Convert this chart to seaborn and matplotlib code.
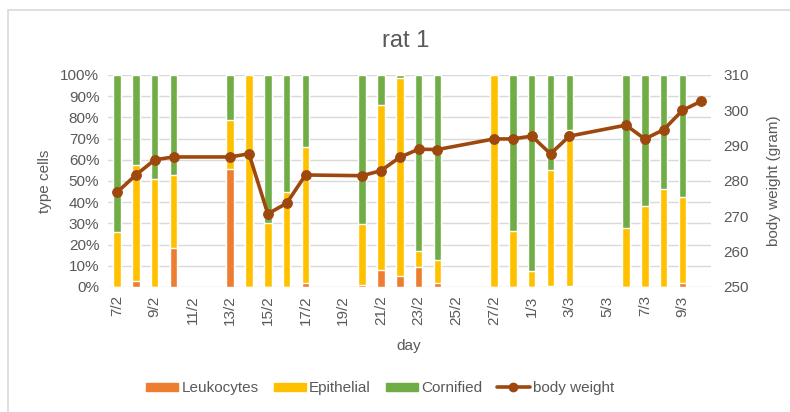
import numpy as np
import pandas as pd
import matplotlib.pyplot as plt
import seaborn as sns
from matplotlib.patches import Patch, Rectangle
from matplotlib.lines import Line2D
from matplotlib.ticker import PercentFormatter

# ------------------- DATOS ------------------- #

nan = np.nan

days = ['7/2', '8/2', '9/2', '10/2', '11/2', '12/2', '13/2', '14/2', '15/2', '16/2',
        '17/2', '18/2', '19/2', '20/2', '21/2', '22/2', '23/2', '24/2', '25/2', '26/2',
        '27/2', '28/2', '1/3', '2/3', '3/3', '4/3', '5/3', '6/3', '7/3', '8/3', '9/3', '10/3']

leukocytes = [0, 2.7, 0, 18.5, nan, nan, 55.8, 0, 0, 0, 2, nan, nan, 1, 8.2, 5,
              9.5, 2, nan, nan, 0, 0, 0, 0.5, 0.5, nan, nan, 0, 0, 0, 2, nan]
epithelial = [26, 54.8, 51, 34.1, nan, nan, 23.2, 100, 30, 45, 64, nan, nan, 28.7, 77.8, 93.7,
              7.5, 10.6, nan, nan, 100, 26.5, 7.6, 54.5, 73.5, nan, nan, 28, 38, 46, 40.3, nan]
cornified = [74, 42.5, 49, 47.4, nan, nan, 21, 0, 70, 55, 34, nan, nan, 70.3, 14, 1.3,
             83, 87.4, nan, nan, 0, 73.5, 92.4, 45, 26, nan, nan, 72, 62, 54, 57.7, nan]

body_weight = [276.8, 281.7, 286, 286.8, nan, nan, 286.8, 287.7, 270.7, 273.7, 281.7, nan, nan,
               281.5, 282.9, 286.7, 289, 288.9, nan, nan, 291.9, 291.9, 292.7, 287.7, 292.7,
               nan, nan, 295.8, 291.9, 294.5, 300, 302.6]

C_LEUK = '#ED7D31'
C_EPI = '#FFC000'
C_CORN = '#70AD47'
C_BW = '#9E480E'
C_TXT = '#595959'

df = pd.DataFrame({'day': days, 'Leukocytes': leukocytes,
                   'Epithelial': epithelial, 'Cornified': cornified,
                   'weight': body_weight})
df['pos'] = np.arange(len(days))
df['cum1'] = df['Leukocytes']
df['cum2'] = df['Leukocytes'] + df['Epithelial']
df['cum3'] = df['cum2'] + df['Cornified']

# ------------------- GRÁFICA ------------------- #

sns.set_style('white')
plt.rcParams['font.family'] = ['Liberation Sans', 'DejaVu Sans']

fig = plt.figure(figsize=(7.9, 4.12), dpi=100)
ax = fig.add_axes([0.1362, 0.3034, 0.8997 - 0.1362, 0.818 - 0.3034])

bars = df.dropna(subset=['cum3'])
for col, c in [('cum3', C_CORN), ('cum2', C_EPI), ('cum1', C_LEUK)]:
    sns.barplot(data=bars, x='day', y=col, order=days, color=c, width=0.4,
                saturation=1, ax=ax, zorder=2)

ax.set_ylim(0, 100)
ax.set_yticks(np.arange(0, 101, 10))
ax.yaxis.set_major_formatter(PercentFormatter(decimals=0))
ax.grid(axis='y', color='#D9D9D9', linewidth=1, zorder=0)
ax.set_axisbelow(True)
ax.set_xticks(range(0, len(days), 2))
ax.set_xticklabels(days[::2], rotation=90)
ax.tick_params(axis='both', length=0, labelsize=11, colors=C_TXT, pad=6)
ax.set_xlabel('day', fontsize=11, color=C_TXT, labelpad=10)
ax.set_ylabel('type cells', fontsize=11, color=C_TXT, labelpad=6)
for s in ax.spines.values():
    s.set_visible(False)

ax2 = ax.twinx()
line = df.dropna(subset=['weight'])
sns.lineplot(data=line, x='pos', y='weight', color=C_BW, linewidth=2.6,
             marker='o', markersize=7, markeredgecolor=C_BW, ax=ax2)
ax2.set_ylim(250, 310)
ax2.set_yticks(np.arange(250, 311, 10))
ax2.tick_params(axis='y', length=0, labelsize=11, colors=C_TXT, pad=9)
ax2.set_ylabel('body weight (gram)', fontsize=11, color=C_TXT, labelpad=13)
ax2.set_xlabel('')
for s in ax2.spines.values():
    s.set_visible(False)
ax.set_xlim(-0.5, len(days) - 0.5)
ax2.set_xlim(-0.5, len(days) - 0.5)

fig.text(0.513, 0.9, 'rat 1', ha='center', va='center', fontsize=17, color=C_TXT)

handles = [Patch(color=C_LEUK, label='Leukocytes'),
           Patch(color=C_EPI, label='Epithelial'),
           Patch(color=C_CORN, label='Cornified'),
           Line2D([], [], color=C_BW, linewidth=2.6, marker='o', markersize=6,
                  label='body weight')]
fig.legend(handles=handles, loc='center', bbox_to_anchor=(0.481, 0.058), ncol=4,
           frameon=False, fontsize=11, handlelength=2.1, handleheight=0.45,
           handletextpad=0.2, columnspacing=1.0, labelcolor=C_TXT)

# borde del área del gráfico
fig.patches.append(Rectangle((8 / 790, -0.1), 1.2, 1.1 - 10 / 412,
                             transform=fig.transFigure, fill=False,
                             edgecolor='#D9D9D9', linewidth=1.2))

plt.savefig('out.png', dpi=100)
plt.close()
